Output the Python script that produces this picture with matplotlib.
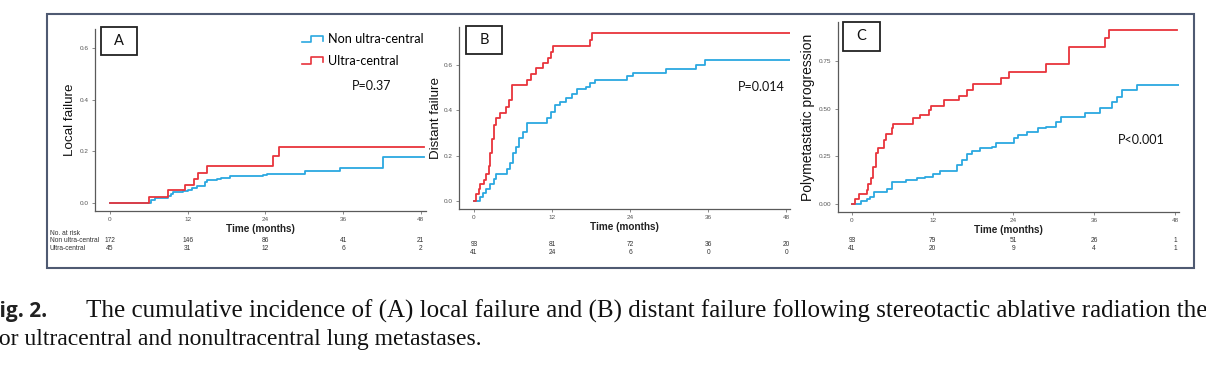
import matplotlib
matplotlib.use('Agg')
import matplotlib.pyplot as plt
from matplotlib.lines import Line2D
from matplotlib.legend_handler import HandlerBase
from matplotlib.patches import Rectangle
from matplotlib.ticker import FormatStrFormatter
import matplotlib.transforms as mtransforms

plt.rcParams['font.family'] = ['Liberation Sans', 'DejaVu Sans']

RED = '#E8343C'
BLUE = '#2BA8E0'

# panel A - local failure
a_blue_t = [0, 6.2, 6.4, 7.0, 9.0, 9.4, 9.8, 11.2, 12.1, 12.6, 13.4, 14.7, 15.0, 16.5, 17.2, 18.5, 23.7, 24.2, 30.1, 35.5, 42.1, 48.5]
a_blue_y = [0, 0.0, 0.010, 0.019, 0.028, 0.036, 0.041, 0.045, 0.052, 0.059, 0.065, 0.081, 0.088, 0.092, 0.097, 0.103, 0.108, 0.111, 0.123, 0.135, 0.178, 0.178]
a_red_t = [0, 6.0, 9.0, 11.6, 13.0, 13.6, 15.0, 25.1, 26.1, 48.5]
a_red_y = [0, 0.022, 0.049, 0.071, 0.092, 0.117, 0.143, 0.181, 0.215, 0.215]

# panel B - distant failure
b_blue_t = [0, 0.36, 0.9, 1.4, 1.9, 2.5, 3.0, 3.4, 4.2, 5.1, 5.6, 6.0, 6.5, 6.9, 7.6, 8.1, 11.3, 11.9, 12.4, 13.2, 14.2, 15.0, 15.8, 17.3, 17.8, 18.6, 23.5, 24.5, 29.6, 34.2, 35.6, 48.7]
b_blue_y = [0, 0.0, 0.018, 0.035, 0.055, 0.077, 0.099, 0.118, 0.121, 0.143, 0.166, 0.210, 0.240, 0.280, 0.306, 0.343, 0.365, 0.395, 0.424, 0.439, 0.454, 0.471, 0.494, 0.505, 0.520, 0.535, 0.550, 0.567, 0.582, 0.601, 0.624, 0.624]
b_red_t = [0, 0.36, 0.7, 0.9, 1.5, 1.9, 2.3, 2.5, 2.8, 3.1, 3.4, 4.0, 4.9, 5.4, 5.8, 8.2, 8.7, 9.6, 10.6, 11.4, 11.8, 12.1, 17.8, 18.1, 48.7]
b_red_y = [0, 0.030, 0.053, 0.077, 0.095, 0.118, 0.155, 0.213, 0.276, 0.335, 0.365, 0.387, 0.414, 0.446, 0.513, 0.535, 0.562, 0.587, 0.610, 0.631, 0.656, 0.683, 0.712, 0.742, 0.742]

# panel C - polymetastatic progression
c_blue_t = [0, 1.4, 2.3, 2.7, 3.2, 5.2, 5.9, 8.1, 9.6, 10.8, 12.1, 13.1, 15.6, 16.3, 17.1, 17.8, 19.0, 20.8, 21.4, 24.1, 24.6, 26.0, 27.7, 28.9, 30.3, 31.1, 34.6, 36.9, 38.7, 39.4, 40.2, 42.4, 48.9]
c_blue_y = [0, 0.017, 0.024, 0.038, 0.065, 0.077, 0.117, 0.126, 0.135, 0.143, 0.156, 0.173, 0.205, 0.231, 0.260, 0.280, 0.292, 0.301, 0.318, 0.344, 0.362, 0.376, 0.397, 0.406, 0.432, 0.455, 0.476, 0.502, 0.537, 0.563, 0.598, 0.624, 0.624]
c_red_t = [0, 0.45, 1.0, 2.2, 2.4, 2.8, 3.1, 3.6, 3.9, 4.7, 5.1, 5.9, 6.1, 9.1, 10.1, 11.5, 11.7, 13.7, 15.9, 17.1, 18.0, 22.2, 23.4, 28.8, 32.2, 37.6, 38.2, 48.3]
c_red_y = [0, 0.026, 0.052, 0.073, 0.105, 0.135, 0.196, 0.266, 0.295, 0.336, 0.367, 0.397, 0.420, 0.449, 0.467, 0.493, 0.514, 0.545, 0.568, 0.598, 0.629, 0.659, 0.694, 0.733, 0.825, 0.869, 0.913, 0.913]

risk_times = [0, 12, 24, 36, 48]
a_risk_non = [172, 146, 86, 41, 21]
a_risk_ultra = [45, 31, 12, 6, 2]
b_risk_non = [93, 81, 72, 36, 20]
b_risk_ultra = [41, 24, 6, 0, 0]
c_risk_non = [93, 79, 51, 26, 1]
c_risk_ultra = [41, 20, 9, 4, 1]

W, H = 1206, 365
fig = plt.figure(figsize=(W / 100, H / 100), dpi=100)


def fx(px):
    return px / W


def fy(py):
    return 1 - py / H


def make_axes(l, r, t, b):
    return fig.add_axes([fx(l), fy(b), fx(r - l), fy(t) - fy(b)])


def style(ax, ylabel, yticks, yfmt, xlim, ylim, ylab_x, ylab_size):
    ax.set_xlim(*xlim)
    ax.set_ylim(*ylim)
    for s in ['top', 'right']:
        ax.spines[s].set_visible(False)
    for s in ['left', 'bottom']:
        ax.spines[s].set_color('#5a5a5a')
        ax.spines[s].set_linewidth(0.9)
    ax.set_xticks(risk_times)
    ax.set_yticks(yticks)
    ax.yaxis.set_major_formatter(FormatStrFormatter(yfmt))
    ax.tick_params(length=2, width=0.6, color='#777777', labelsize=4.6,
                   labelcolor='#555555', pad=2.5)
    ax.set_xlabel('Time (months)', fontsize=7.2, fontweight='bold', color='#222222', labelpad=1)
    ax.set_ylabel(ylabel, fontsize=ylab_size, color='#111111')
    ax.yaxis.set_label_coords(ylab_x, 0.5)


def letter_box(l, t, r, b, letter):
    fig.patches.append(Rectangle((fx(l), fy(b)), fx(r - l), fy(t) - fy(b),
                                 transform=fig.transFigure, fill=False,
                                 edgecolor='#222222', linewidth=1.3))
    fig.text(fx((l + r) / 2), fy((t + b) / 2), letter, ha='center', va='center',
             fontsize=10.5, family='Lato', color='#111111')


def risk_rows(ax, non, ultra, y1, y2):
    tr = mtransforms.blended_transform_factory(ax.transData, fig.transFigure)
    for t, n, u in zip(risk_times, non, ultra):
        ax.text(t, fy(y1), str(n), transform=tr, ha='center', va='center',
                fontsize=4.8, color='#333333', clip_on=False)
        ax.text(t, fy(y2), str(u), transform=tr, ha='center', va='center',
                fontsize=4.8, color='#333333', clip_on=False)


# outer frame
fig.patches.append(Rectangle((fx(47), fy(268)), fx(1194 - 47), fy(14) - fy(268),
                             transform=fig.transFigure, fill=False,
                             edgecolor='#4f5a72', linewidth=1.5))

# ---- A
axA = make_axes(95, 426, 29, 211)
axA.step(a_blue_t, a_blue_y, where='post', color=BLUE, lw=1.3)
axA.step(a_red_t, a_red_y, where='post', color=RED, lw=1.3)
style(axA, 'Local failure', [0, 0.2, 0.4, 0.6], '%.1f', (-2.32, 48.8), (-0.031, 0.674), -0.058, 9.6)
letter_box(101, 27, 137, 55, 'A')
risk_rows(axA, a_risk_non, a_risk_ultra, 240, 248.5)
fig.text(fx(50), fy(233), 'No. at risk', fontsize=4.8, color='#333333', va='center')
fig.text(fx(50), fy(240), 'Non ultra-central', fontsize=4.8, color='#333333', va='center')
fig.text(fx(50), fy(248.5), 'Ultra-central', fontsize=4.8, color='#333333', va='center')
fig.text(fx(352), fy(86), 'P=0.37', fontsize=9, family='Lato', color='#111111', va='center')


class StepHandler(HandlerBase):
    def create_artists(self, legend, orig_handle, xdescent, ydescent,
                       width, height, fontsize, trans):
        x0, x1 = -xdescent, -xdescent + width
        xs = [x0, x0 + 0.45 * width, x0 + 0.45 * width, x1, x1]
        ys = [0.1 * height, 0.1 * height, 0.85 * height, 0.85 * height, 0.3 * height]
        ln = Line2D(xs, ys, color=orig_handle.get_color(), lw=1.2, transform=trans)
        return [ln]


h_non = Line2D([], [], color=BLUE)
h_ultra = Line2D([], [], color=RED)
leg = fig.legend([h_non, h_ultra], ['Non ultra-central', 'Ultra-central'],
                 handler_map={Line2D: StepHandler()},
                 loc='upper left', bbox_to_anchor=(fx(291), fy(22)),
                 frameon=False, prop={'family': 'Lato', 'size': 9.1},
                 handlelength=1.6, handletextpad=0.45, labelspacing=0.75)

# ---- B
axB = make_axes(459, 790, 27, 209)
axB.step(b_blue_t, b_blue_y, where='post', color=BLUE, lw=1.3)
axB.step(b_red_t, b_red_y, where='post', color=RED, lw=1.3)
style(axB, 'Distant failure', [0, 0.2, 0.4, 0.6], '%.1f', (-2.31, 48.6), (-0.035, 0.768), -0.051, 9.6)
letter_box(466, 26, 502, 54, 'B')
risk_rows(axB, b_risk_non, b_risk_ultra, 244.5, 252)
fig.text(fx(738), fy(87), 'P=0.014', fontsize=9, family='Lato', color='#111111', va='center')

# ---- C
axC = make_axes(838, 1179, 22, 212)
axC.step(c_blue_t, c_blue_y, where='post', color=BLUE, lw=1.3)
axC.step(c_red_t, c_red_y, where='post', color=RED, lw=1.3)
style(axC, 'Polymetastatic progression', [0, 0.25, 0.5, 0.75], '%.2f', (-2.08, 48.6), (-0.042, 0.954), -0.067, 10)
letter_box(843, 22, 880, 51, 'C')
risk_rows(axC, c_risk_non, c_risk_ultra, 240, 248)
fig.text(fx(1118), fy(140), 'P<0.001', fontsize=9, family='Lato', color='#111111', va='center')

# caption (cut at the page edges, as in the source)
fig.text(fx(-12), fy(311), 'Fig. 2.', fontsize=15, fontweight='bold', family='Open Sans',
         color='#222222', va='center')
fig.text(fx(86), fy(311),
         'The cumulative incidence of (A) local failure and (B) distant failure following '
         'stereotactic ablative radiation therapy',
         fontsize=18, family='Liberation Serif', color='#111111', va='center')
fig.text(fx(-9), fy(340), 'for ultracentral and nonultracentral lung metastases.',
         fontsize=17, family='Liberation Serif', color='#111111', va='center')

fig.savefig('out.png', dpi=100, facecolor='white')
